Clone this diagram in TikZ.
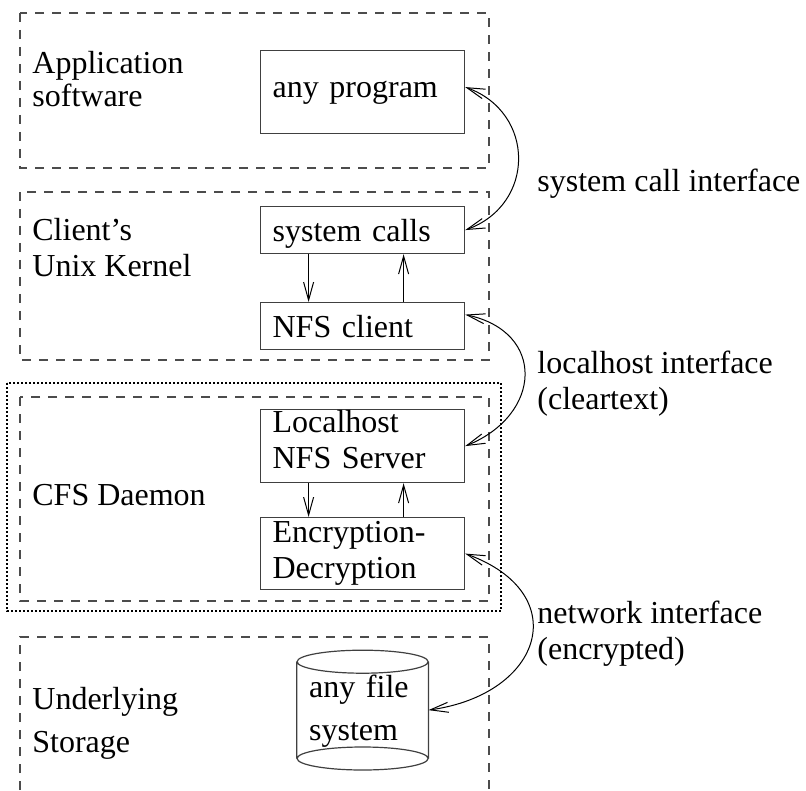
\documentclass[tikz,border=0pt]{standalone}
\usepackage{fontspec}
\setmainfont{Liberation Serif}
\usetikzlibrary{arrows.meta,positioning}

\begin{document}
\begin{tikzpicture}[x=0.5pt, y=-0.5pt, every node/.style={font=\fontsize{16}{18}\selectfont},
  layer/.style={draw=black!70, line width=0.6pt, dash pattern=on 4.5pt off 4pt},
  daemon/.style={draw=black, line width=0.9pt, dash pattern=on 0.8pt off 1.2pt},
  box/.style={draw=black!75, line width=0.6pt, inner xsep=6pt, inner ysep=0pt, text width=90pt, align=left},
  tag/.style={anchor=base west, align=left, inner sep=0pt},
  arr/.style={-{Straight Barb[length=9pt, width=5pt]}, line width=0.5pt},
  link/.style={{Straight Barb[length=9pt, width=5pt]}-{Straight Barb[length=9pt, width=5pt]}, line width=0.5pt}]
\useasboundingbox (0,0) rectangle (806,790);
% layers of the stack
\draw[layer] (20,13) rectangle (489,168);
\draw[layer] (20,192) rectangle (489,360);
\draw[layer] (20,397) rectangle (489,601);
\draw[layer] (20,790) -- (20,637) -- (489,637) -- (489,790);
\draw[daemon] (7,383) rectangle (501,611);
\node[tag] (app) at (32,107) {Application\\[-1.5pt]software};
\node[tag] (kern) at (32,277) {Client's\\Unix Kernel};
\node[tag] (cfs) at (32,505) {CFS Daemon};
\node[tag] (store) at (32,752) {Underlying\\[3.5pt]Storage};
% components
\node[box, text height=23.5pt, text depth=18pt, anchor=north west] (prog) at (260,50) {any program};
\node[box, text height=17.5pt, text depth=6pt, below=35.9pt of prog] (sys) {system calls};
\node[box, text height=17.5pt, text depth=6pt, below=23.9pt of sys] (nfs) {NFS client};
\node[box, text height=11.5pt, text depth=25pt, below=29.4pt of nfs] (srv) {Localhost\\NFS Server};
\node[box, text height=12.5pt, text depth=23.5pt, below=16.9pt of srv] (crypt) {Encryption-\\Decryption};
\node[inner xsep=6pt, inner ysep=0pt, text width=53.5pt, align=left, text height=23.5pt, text depth=36pt, below=30pt of crypt] (fs) {any file\\[3.5pt]system};
\draw[black!75, line width=0.6pt] ([yshift=-5.75pt]fs.north west) -- ([yshift=5.75pt]fs.south west)
  ([yshift=-5.75pt]fs.north east) -- ([yshift=5.75pt]fs.south east)
  ([yshift=-5.75pt]fs.north) ellipse [x radius=32.75pt, y radius=5.75pt]
  ([yshift=5.75pt]fs.south) ellipse [x radius=32.75pt, y radius=5.75pt];
\draw[arr] ([xshift=-27pt]sys.south) -- ([xshift=-27pt]nfs.north);
\draw[arr] ([xshift=20.5pt]nfs.north) -- ([xshift=20.5pt]sys.south);
\draw[arr] ([xshift=-27pt]srv.south) -- ([xshift=-27pt]crypt.north);
\draw[arr] ([xshift=20.5pt]crypt.north) -- ([xshift=20.5pt]srv.south);
% interfaces between layers
\draw[link] ([yshift=2.5pt]prog.east) to[out=-20, in=20, distance=37.5pt] (sys.east);
\draw[link] ([yshift=5.75pt]nfs.east) to[out=-12, in=22, distance=41.5pt] (srv.east);
\draw[link] (crypt.east) to[out=-20, in=8, distance=58pt] (fs.east);
\node[tag] (sysif) at (537,192) {system call interface};
\node[tag] (lhif) at (537,409) {localhost interface\\(cleartext)};
\node[tag] (netif) at (537,659) {network interface\\(encrypted)};
\end{tikzpicture}
\end{document}
